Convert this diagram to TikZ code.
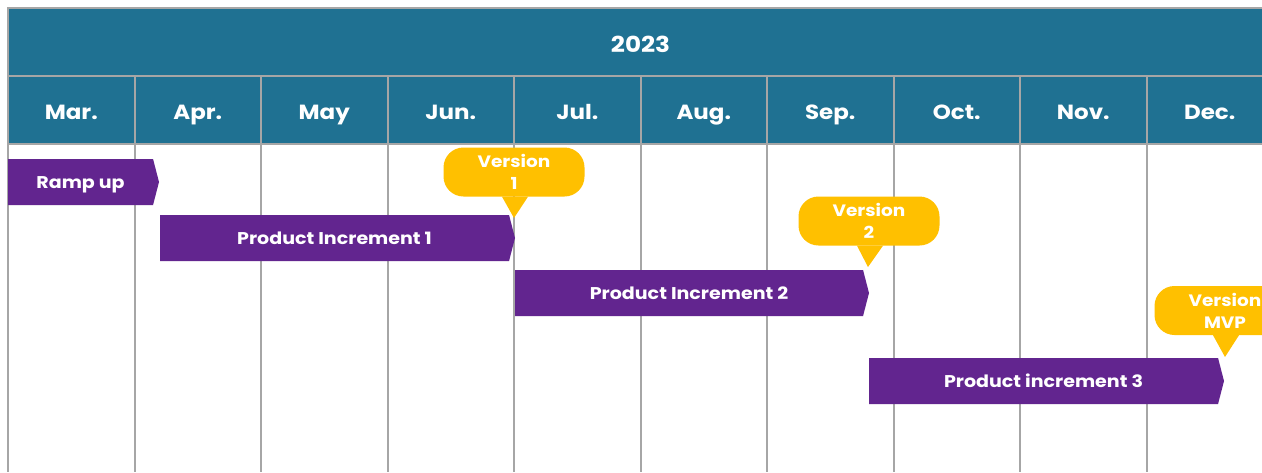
\documentclass[tikz,border=0pt]{standalone}
\usepackage{fontspec}
\setmainfont{Poppins}[FakeStretch=1.12]
\usetikzlibrary{shapes.symbols}
\definecolor{hdrblue}{HTML}{1F7192}
\definecolor{barpurple}{HTML}{62258F}
\definecolor{veryellow}{HTML}{FFC000}
\definecolor{gridgray}{HTML}{A6A6A6}
\tikzset{
  gridline/.style={draw=gridgray, line width=2pt},
  hdrtext/.style={text=white, anchor=base, font=\fontsize{20.5}{24}\selectfont\bfseries},
  yeartext/.style={text=white, anchor=base, font=\fontsize{22}{26}\selectfont\bfseries},
  barbox/.style={shape=signal, signal to=east, signal pointer angle=151, fill=barpurple,
    text=white, font=\fontsize{17}{20}\selectfont\bfseries, minimum height=46pt, inner sep=0pt,
    outer sep=0pt, anchor=west, text height=13pt, text depth=0pt},
  verbox/.style={fill=veryellow, rounded corners=20pt, minimum width=141pt, minimum height=49pt,
    text=white, align=center, inner sep=0pt, font=\fontsize{16.5}{22}\selectfont\bfseries},
  verptr/.style={fill=veryellow}
}
\begin{document}
\begin{tikzpicture}[x=1pt,y=-1pt]
\useasboundingbox (0,0) rectangle (1262,472);
\fill[white] (0,0) rectangle (1262,472);
% header
\fill[hdrblue] (8,8) rectangle (1290,144);
\draw[gridline] (1290,8) -- (8,8) -- (8,472);
\draw[gridline] (8,76) -- (1290,76);
\draw[gridline] (8,144) -- (1290,144);
\foreach \i in {1,...,9} \draw[gridline] (8+126.5*\i,76) -- (8+126.5*\i,472);
\node[yeartext] (year) at (640.5,52) {2023};
\foreach \m [count=\i from 0] in {Mar.,Apr.,May,Jun.,Jul.,Aug.,Sep.,Oct.,Nov.,Dec.}
  \node[hdrtext] (m\i) at (71.25+126.5*\i,119) {\m};
% bars
\node[barbox, minimum width=151pt] (ramp) at (8,182) {Ramp up};
\node[barbox, minimum width=355pt] (pi1) at (160,238) {Product Increment 1};
\node[barbox, minimum width=354pt] (pi2) at (515,293) {Product Increment 2};
\node[barbox, minimum width=355pt] (pi3) at (869,381) {Product increment 3};
% version callouts
\node[verbox] (v1) at (514,172) {Version\\1};
\coordinate (v1tip) at (514,218);
\fill[verptr] ([xshift=-12pt]v1.south) -- (v1tip) -- ([xshift=14pt]v1.south) -- cycle;
\node[verbox] (v2) at (869,221) {Version\\2};
\coordinate (v2tip) at (868,267);
\fill[verptr] ([xshift=-12pt]v2.south) -- (v2tip) -- ([xshift=14pt]v2.south) -- cycle;
\node[verbox] (v3) at (1225,310.5) {Version\\MVP};
\coordinate (v3tip) at (1225,357);
\fill[verptr] ([xshift=-12pt]v3.south) -- (v3tip) -- ([xshift=14pt]v3.south) -- cycle;
\end{tikzpicture}
\end{document}
